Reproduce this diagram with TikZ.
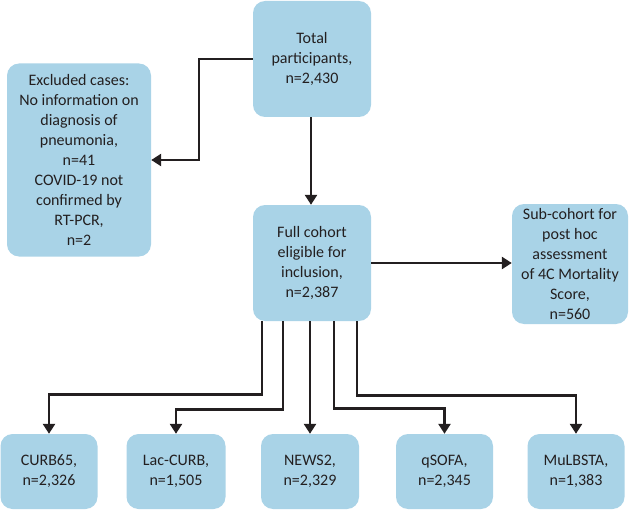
\documentclass[tikz,border=0pt]{standalone}
\usepackage{fontspec}
\setmainfont{Carlito}
\usetikzlibrary{arrows.meta}
\definecolor{boxfill}{HTML}{A9D3E7}
\definecolor{ink}{HTML}{231F20}
\tikzset{
  x=1pt,y=-1pt,
  box/.style={draw=none,fill=boxfill,rounded corners=12pt,align=center,text=ink,
    font=\fontsize{16}{20}\selectfont,inner sep=0pt},
  arr/.style={draw=ink,line width=2.6pt,-{Triangle[width=12pt,length=10pt]}},
}
\begin{document}
\begin{tikzpicture}
\useasboundingbox (0,0) rectangle (630,511);
\node[box,minimum width=118,minimum height=116] (total) at (312,59) {Total\\participants,\\n=2,430};
\node[box,minimum width=144,minimum height=193] (excl) at (79,160) {Excluded cases:\\No information on\\diagnosis of\\pneumonia,\\n=41\\COVID-19 not\\confirmed by\\RT-PCR,\\n=2};
\node[box,minimum width=118,minimum height=116] (full) at (312,263) {Full cohort\\eligible for\\inclusion,\\n=2,387};
\node[box,minimum width=116,minimum height=120] (sub) at (570,264) {Sub-cohort for\\post hoc\\assessment\\of 4C Mortality\\Score,\\n=560};
\node[box,minimum width=97,minimum height=75] (curb) at (49,471.5) {CURB65,\\n=2,326};
\node[box,minimum width=99,minimum height=75] (lac) at (176,471.5) {Lac-CURB,\\n=1,505};
\node[box,minimum width=98,minimum height=75] (news) at (310,471.5) {NEWS2,\\n=2,329};
\node[box,minimum width=97,minimum height=75] (qsofa) at (444.5,471.5) {qSOFA,\\n=2,345};
\node[box,minimum width=97,minimum height=75] (mul) at (576,471.5) {MuLBSTA,\\n=1,383};
\draw[arr] (total.west) -- ++(-54,0) |- (excl.east);
\draw[arr] ([xshift=-1]total.south) -- ([xshift=-1]full.north);
\draw[arr] (full.east) -- (full.east -| sub.west);
\draw[arr] ([xshift=-50]full.south) -- ++(0,73) -| (curb.north);
\draw[arr] ([xshift=-29]full.south) -- ++(0,88) -| (lac.north);
\draw[arr] (news.north |- full.south) -- (news.north);
\draw[arr] ([xshift=22]full.south) -- ++(0,87) -| (qsofa.north);
\draw[arr] ([xshift=45]full.south) -- ++(0,74) -| (mul.north);
\end{tikzpicture}
\end{document}
